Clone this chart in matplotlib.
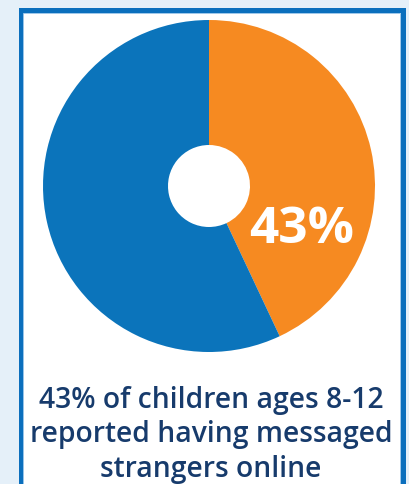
import matplotlib.pyplot as plt
from matplotlib.patches import Rectangle

# data
labels = ['Messaged strangers', 'Did not']
values = [43, 57]
colors = ['#f68a21', '#0b74bb']
big_label = '43%'
caption = '43% of children ages 8-12\nreported having messaged\nstrangers online'

W, H = 410, 485
fig = plt.figure(figsize=(W / 100, H / 100), dpi=100)
fig.patch.set_facecolor('#e5f0f9')

# white panel with blue border
fig.patches.append(Rectangle((20.5 / W, -0.05), 382.5 / W, (H - 10.5) / H + 0.05,
                             transform=fig.transFigure, facecolor='white',
                             edgecolor='#0b6fbd', linewidth=3.6, zorder=-2))
fig.patches.append(Rectangle((23.5 / W, -0.05), 376.5 / W, (H - 13.5) / H + 0.05,
                             transform=fig.transFigure, facecolor='none',
                             edgecolor='#9cc7ea', linewidth=0.7, zorder=-1))

cx, cy, r = 209, 187, 166
ax = fig.add_axes([(cx - r) / W, (H - cy - r) / H, 2 * r / W, 2 * r / H])
ax.pie(values, colors=colors, startangle=90, counterclock=False, radius=1,
       wedgeprops=dict(width=1 - 41 / 166, linewidth=0))
ax.set_xlim(-1, 1)
ax.set_ylim(-1, 1)
ax.set_aspect('equal')
ax.axis('off')
ax.text(0.555, -0.26, big_label, color='white', fontsize=37, fontweight='bold',
        family=['Open Sans', 'DejaVu Sans'], ha='center', va='center')

fig.text(211 / W, 1 - 435 / H, caption, color='#173b6c', fontsize=20.3,
         fontweight='semibold', family=['Open Sans', 'DejaVu Sans'],
         ha='center', va='center', linespacing=1.24)

fig.savefig('out.png', dpi=100, facecolor=fig.get_facecolor())
